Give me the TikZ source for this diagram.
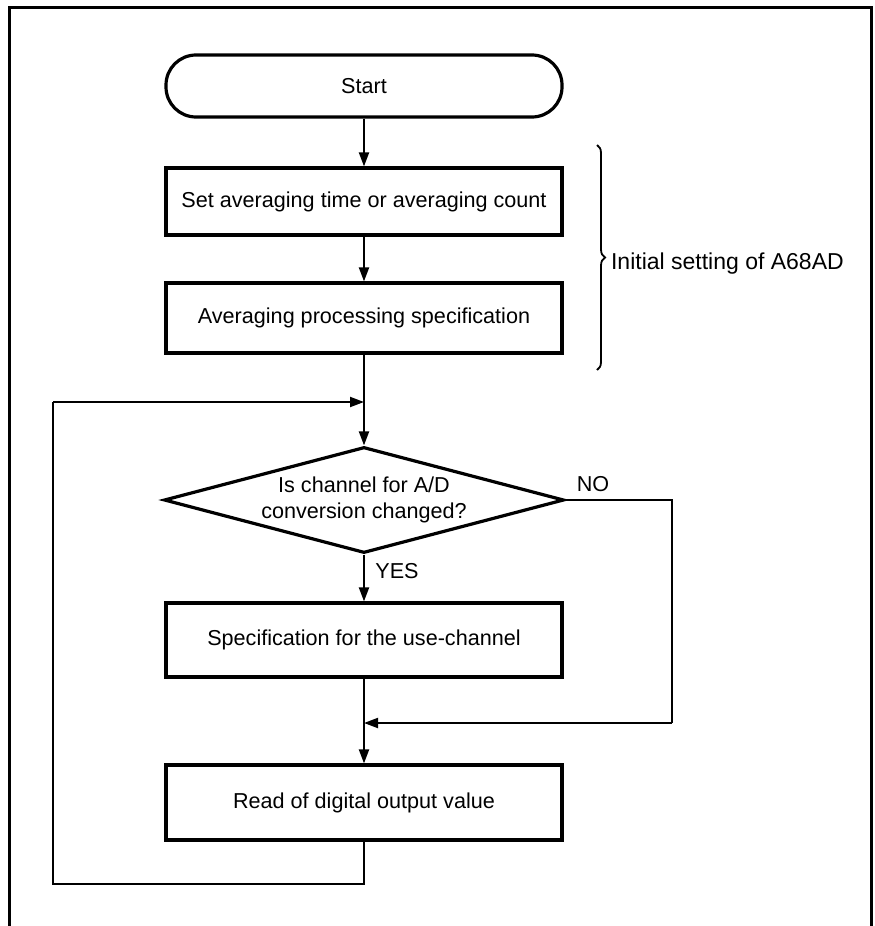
\documentclass[tikz,border=0pt]{standalone}
\usepackage{fontspec}
\setmainfont{Liberation Sans}
\usetikzlibrary{shapes.geometric,arrows.meta,decorations.pathreplacing}

\tikzset{
    block/.style={draw, line width=1.6pt, rectangle, minimum width=198pt, inner sep=0pt, font=\fontsize{10.8}{12}\selectfont},
    decide/.style={draw, line width=1.6pt, diamond, shape aspect=3.8, minimum width=200pt, minimum height=53pt, inner sep=0pt, align=center, font=\fontsize{10.8}{13}\selectfont},
    flow/.style={line width=1pt, -{Triangle[length=7pt,width=5pt]}},
    line/.style={line width=1pt},
    lab/.style={font=\fontsize{10.8}{12}\selectfont}
}

\begin{document}
\begin{tikzpicture}[x=0.5pt, y=-0.5pt]
        \useasboundingbox (0,0) rectangle (874,926);

        % Rahmen
        \draw[line width=1.5pt] (9,926) -- (9,7) -- (871,7) -- (871,926);

        % Bloecke
        \node[block, rounded corners=15pt, minimum height=31pt] (start) at (364,86) {Start};
        \node[block, minimum height=33.5pt] (settime) at (364,201.5) {Set averaging time or averaging count};
        \node[block, minimum height=35pt] (avgspec) at (364,318) {Averaging processing specification};
        \node[decide] (chchange) at (364,500) {Is channel for A/D\\conversion changed?};
        \node[block, minimum height=37pt] (usech) at (364,640) {Specification for the use-channel};
        \node[block, minimum height=37.5pt] (readout) at (364,802.5) {Read of digital output value};

        % Hilfspunkte
        \coordinate (loopin) at (364,402);
        \coordinate (loopleft) at (53,402);
        \coordinate (loopbot) at (53,884);
        \coordinate (merge) at (364,723);
        \coordinate (noright) at (672,500);

        % Verbindungen
        \draw[flow] (start) -- (settime);
        \draw[flow] (settime) -- (avgspec);
        \draw[flow] (avgspec) -- (chchange);
        \draw[flow] (chchange) -- (usech);
        \draw[flow] (usech) -- (readout);
        \draw[line] (readout.south) |- (loopbot) -- (loopleft);
        \draw[flow] (loopleft) -- (loopin);
        \draw[line] (chchange.east) -- (noright) -- (noright |- merge);
        \draw[flow] (noright |- merge) -- (merge);

        % Beschriftungen
        \node[lab] (nolabel) at (593,484) {NO};
        \node[lab] (yeslabel) at (397,571) {YES};

        % Klammer
        \draw[line width=0.9pt, decorate, decoration={brace, amplitude=4pt}] (597,145) -- (597,370);
        \node[anchor=west, font=\fontsize{11.5}{12}\selectfont] (initlabel) at (604,264) {Initial setting of A68AD};

    \end{tikzpicture}
\end{document}
